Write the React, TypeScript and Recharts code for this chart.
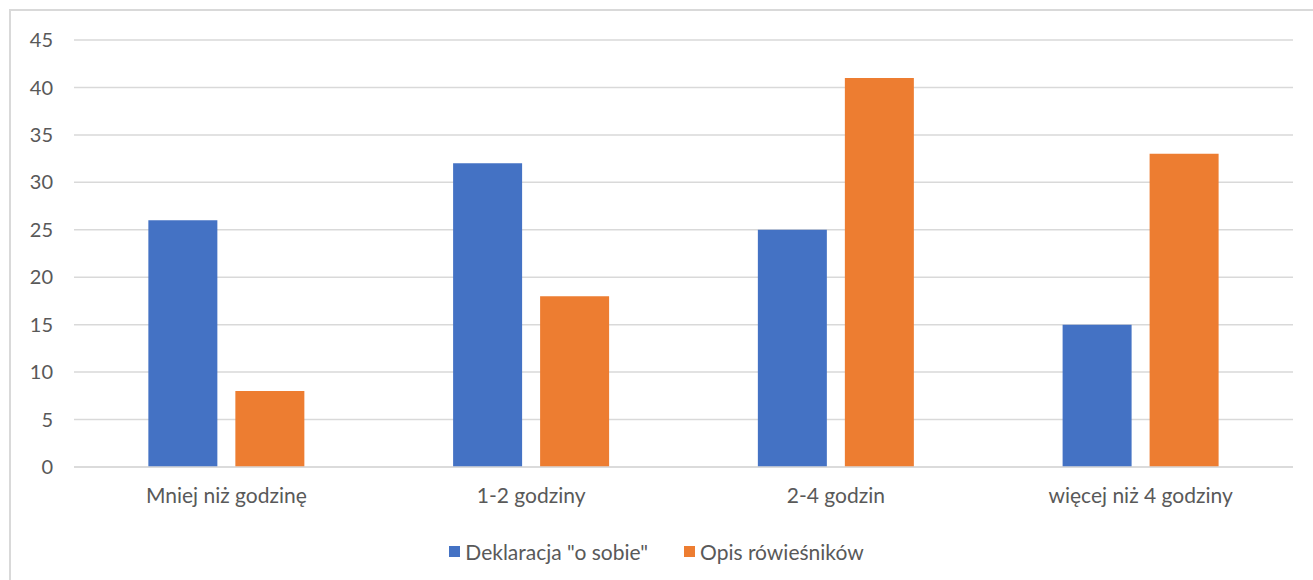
import { BarChart, Bar, XAxis, YAxis, CartesianGrid, Legend } from "recharts";

const categories = ["Mniej niż godzinę", "1-2 godziny", "2-4 godzin", "więcej niż 4 godziny"];
const selfDeclared = [26, 32, 25, 15];
const peerReported = [8, 18, 41, 33];
const yTicks = [0, 5, 10, 15, 20, 25, 30, 35, 40, 45];

const SERIES = [
  { key: "self", name: 'Deklaracja "o sobie"', color: "#4472C4" },
  { key: "peer", name: "Opis rówieśników", color: "#ED7D31" },
];

const FONT = "Lato, 'Liberation Sans', sans-serif";
const TEXT = "#595959";

function LegendContent() {
  return (
    <div
      style={{
        display: "flex",
        justifyContent: "center",
        alignItems: "center",
        height: 30,
        fontFamily: FONT,
        fontSize: 21,
        color: TEXT,
        gap: 36,
      }}
    >
      {SERIES.map((s) => (
        <div key={s.key} style={{ display: "flex", alignItems: "center" }}>
          <span style={{ width: 11, height: 11, background: s.color, marginRight: 5, display: "inline-block" }} />
          <span>{s.name}</span>
        </div>
      ))}
    </div>
  );
}

export default function App() {
  const data = categories.map((c, i) => ({
    name: c,
    self: selfDeclared[i],
    peer: peerReported[i],
  }));

  return (
    <div style={{ position: "absolute", left: 0, top: 0, width: 1313, height: 580, overflow: "hidden", background: "#fff" }}>
      <div
        style={{
          position: "absolute",
          left: 9,
          top: 9,
          width: 1330,
          height: 600,
          border: "2px solid #D9D9D9",
        }}
      />
      <BarChart
        width={1313}
        height={580}
        data={data}
        margin={{ top: 40, right: 20, left: 10, bottom: 33 }}
        barCategoryGap="24.4%"
        barGap={18}
      >
        <CartesianGrid vertical={false} stroke="#D9D9D9" strokeWidth={1.5} />
        <XAxis
          dataKey="name"
          height={50}
          tickLine={false}
          axisLine={{ stroke: "#D9D9D9", strokeWidth: 1.5 }}
          tickSize={0}
          tickMargin={21}
          tick={{ fill: TEXT, fontSize: 21, fontFamily: FONT }}
          interval={0}
        />
        <YAxis
          width={64}
          domain={[0, 45]}
          ticks={yTicks}
          axisLine={false}
          tickLine={false}
          tickSize={0}
          tickMargin={21}
          tick={{ fill: TEXT, fontSize: 20, fontFamily: FONT }}
        />
        <Legend
          verticalAlign="bottom"
          content={<LegendContent />}
          wrapperStyle={{ bottom: 14, left: 0, width: 1313 }}
        />
        {SERIES.map((s) => (
          <Bar key={s.key} dataKey={s.key} name={s.name} fill={s.color} isAnimationActive={false} />
        ))}
      </BarChart>
    </div>
  );
}
